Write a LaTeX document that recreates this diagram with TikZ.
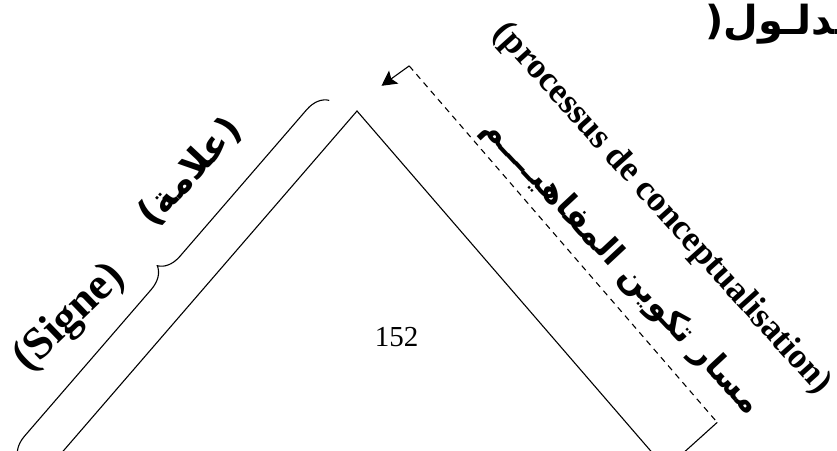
\documentclass[tikz,border=0pt]{standalone}
\usepackage{fontspec}
\setmainfont{Liberation Serif}
\newfontfamily\arabicfont[Script=Arabic]{DejaVu Sans}
\newfontfamily\parenfont{DejaVu Sans}
\TeXXeTstate=1
\usetikzlibrary{decorations.pathreplacing,arrows.meta}
\tikzset{
  edge/.style={line width=1.1pt, line join=miter},
  dashline/.style={line width=1.1pt, dash pattern=on 6pt off 5pt},
  latinbold/.style={font=\bfseries\fontsize{#1}{#1}\selectfont, inner sep=0pt},
  arabbold/.style={font=\arabicfont\bfseries\fontsize{#1}{#1}\selectfont, inner sep=0pt},
}
\newcommand{\lp}{{\parenfont\bfseries(}}
\newcommand{\rp}{{\parenfont\bfseries)}}
\begin{document}
\begin{tikzpicture}[x=1pt,y=-1pt]
\useasboundingbox (0,0) rectangle (837,450);
\clip (0,0) rectangle (837,450);
% geometry
\coordinate (A) at (357,111);
\coordinate (L) at (49.6,466.8);
\coordinate (R) at (664.4,466.8);
\coordinate (B1) at (329.3,100.3);
\coordinate (B2) at (18.6,459.8);
\coordinate (D1) at (409.2,65.9);
\coordinate (D2) at (717.2,422.4);
\coordinate (T) at (381.5,85.8);
\coordinate (E) at (680.8,455.2);
% triangle
\draw[edge] (L) -- (A) -- (R);
% brace on the left
\draw[edge, decorate, decoration={brace, amplitude=22pt}] (B2) -- (B1);
% dashed bracket on the right
\draw[dashline] (D1) -- (D2);
\draw[edge] (D2) -- (E);
\draw[edge, -{Stealth[length=15pt,width=16pt,inset=3pt]}] (D1) -- (T);
% texts
\node[latinbold=35.5, rotate=-48] (fr) at (662,209) {(processus de conceptualisation)};
\node[arabbold=33, rotate=-47] (ar) at (621,267) {\beginR مسار تكوين المفاهيــــم\endR};
\node[font=\fontsize{29}{29}\selectfont, inner sep=0pt] (num) at (396.5,337.5) {152};
\node[latinbold=45, rotate=44] (signe) at (70,318) {(Signe)};
\node[arabbold=37, rotate=47] (alama) at (190,172) {\lp\beginR علامة\endR\rp};
\node[arabbold=40, anchor=base west] (madlul) at (705,34) {\rp\beginR مدلـول\endR\lp};
\end{tikzpicture}
\end{document}
